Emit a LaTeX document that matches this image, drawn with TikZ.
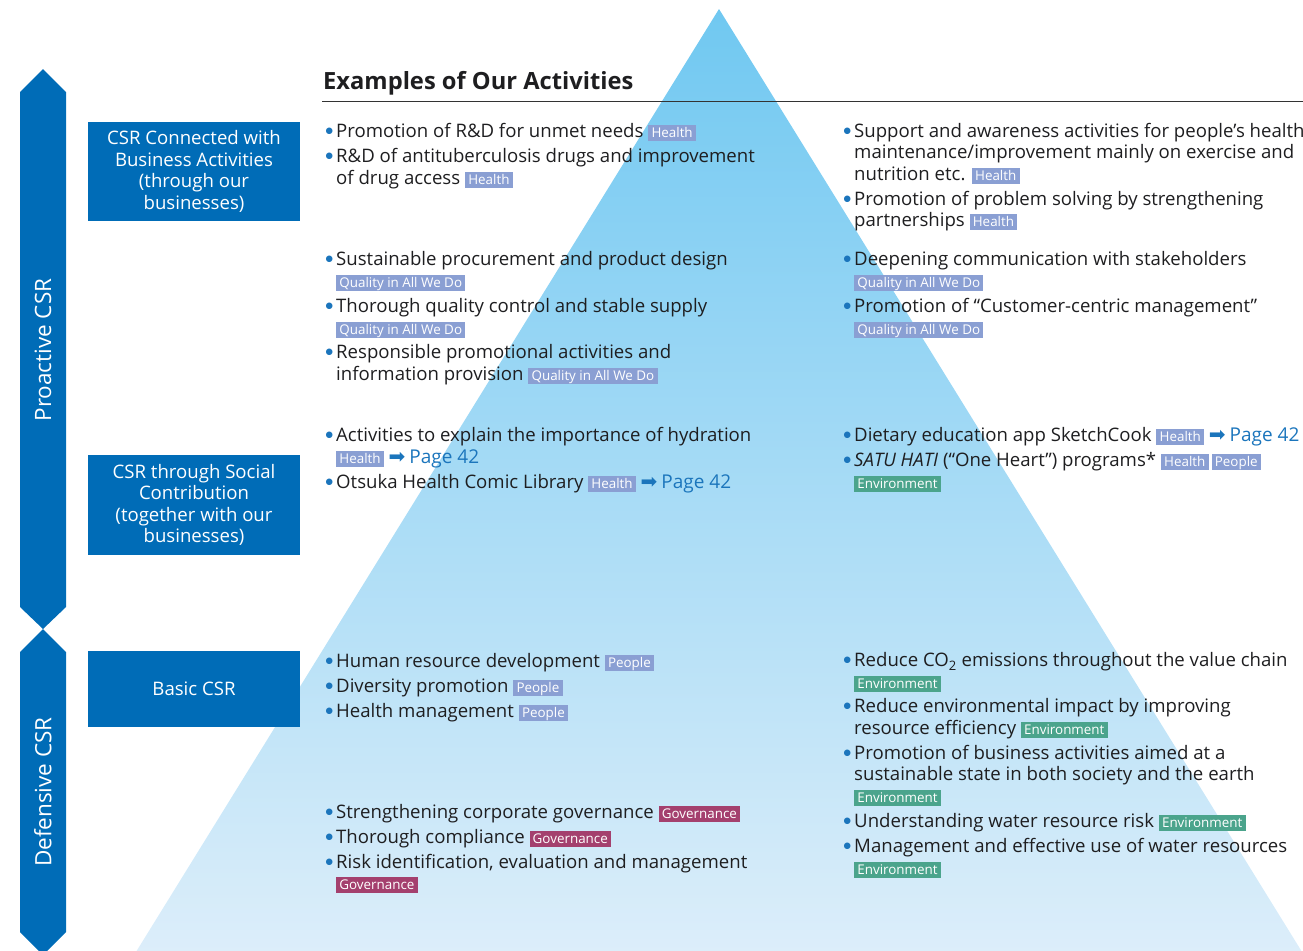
\documentclass[tikz,border=0pt]{standalone}
\usepackage{fontspec}
\setmainfont{Open Sans}
\newfontfamily\symf{DejaVu Sans}
\definecolor{boxblue}{RGB}{0,108,183}
\definecolor{tagblue}{RGB}{138,159,211}
\definecolor{tagenv}{RGB}{75,164,140}
\definecolor{taggov}{RGB}{164,64,110}
\definecolor{linkblue}{RGB}{27,117,188}
\definecolor{txt}{RGB}{30,30,32}
\definecolor{triA}{RGB}{112,200,241}
\definecolor{triB}{RGB}{198,231,249}
\definecolor{triC}{RGB}{221,238,250}
\newcommand{\tg}[2]{{\setlength{\fboxsep}{0pt}\colorbox{#1}{\rule[-3.6bp]{0pt}{16bp}\hspace{3.2bp}{\fontsize{13.4bp}{14bp}\selectfont\textcolor{white}{#2}}\hspace{3.2bp}}}}
\newcommand{\hl}{\tg{tagblue}{Health}}
\newcommand{\pe}{\tg{tagblue}{People}}
\newcommand{\qu}{\tg{tagblue}{Quality in All We Do}}
\newcommand{\en}{\tg{tagenv}{Environment}}
\newcommand{\gv}{\tg{taggov}{Governance}}
\newcommand{\pg}{\textcolor{linkblue}{{\symf\fontsize{20bp}{20bp}\selectfont ➡}\hspace{4bp}{\fontsize{19bp}{20bp}\selectfont Page 42}}}
\newcommand{\bul}{\makebox[10bp][l]{\hspace{-0.5bp}\textcolor{linkblue}{\raisebox{3.8bp}{\symf\fontsize{8.5bp}{8bp}\selectfont ●}}}}
\begin{document}
\begin{tikzpicture}[x=1bp,y=-1bp,
  ln/.style={anchor=base west,inner sep=0pt,text=txt,font=\fontsize{18.6bp}{21bp}\selectfont},
  lvbox/.style={fill=boxblue,text=white,minimum width=212bp,align=center,inner sep=0pt,font=\fontsize{18.6bp}{21.5bp}\selectfont},
  side/.style={fill=boxblue,draw=none},
  sidetext/.style={text=white,rotate=90,inner sep=0pt,font=\fontsize{22.5bp}{24bp}\selectfont}]
\useasboundingbox (0,0) rectangle (1303,950);
\clip (0,0) rectangle (1303,950);
% pyramid
\shade[top color=triA, middle color=triB, bottom color=triC] (719,9) -- (1307,960) -- (131,960) -- cycle;
% side arrows
\path[side] (20,92) -- (43,69) -- (66,92) -- (66,607) -- (43,629) -- (20,607) -- cycle;
\path[side] (20,652) -- (43,629) -- (66,652) -- (66,932) -- (43,955) -- (20,932) -- cycle;
\node[sidetext] (pro) at (43,350) {Proactive CSR};
\node[sidetext] (def) at (43,792) {Defensive CSR};
% level boxes
\node[lvbox,minimum height=99bp] (b1) at (194,171.5) {CSR Connected with\\Business Activities\\(through our\\businesses)};
\node[lvbox,minimum height=100bp] (b2) at (194,505) {CSR through Social\\Contribution\\(together with our\\businesses)};
\node[lvbox,minimum height=76bp] (b3) at (194,689) {Basic CSR};
% title
\node[anchor=base west,inner sep=0pt,text=txt,font=\bfseries\fontsize{23.7bp}{25bp}\selectfont] (title) at (323,89) {Examples of Our Activities};
\coordinate (rl) at (322,101);
\coordinate (rr) at (1303,101);
\draw[line width=1bp,color=black!80] (rl) -- (rr);
% left column
\node[ln] (l1) at (326,137.5) {\bul Promotion of R\&D for unmet needs \hl};
\node[ln] (l2) at (326,162.5) {\bul R\&D of antituberculosis drugs and improvement};
\node[ln] (l3) at (336,184) {of drug access \hl};
\node[ln] (l4) at (326,265.5) {\bul Sustainable procurement and product design};
\node[ln] (l5) at (336,287) {\qu};
\node[ln] (l6) at (326,312.5) {\bul Thorough quality control and stable supply};
\node[ln] (l7) at (336,334) {\qu};
\node[ln] (l8) at (326,358.5) {\bul Responsible promotional activities and};
\node[ln] (l9) at (336,380.5) {information provision \qu};
\node[ln] (l10) at (326,441.5) {\bul Activities to explain the importance of hydration};
\node[ln] (l11) at (336,463) {\hl\ \pg};
\node[ln] (l12) at (326,488.5) {\bul Otsuka Health Comic Library \hl\ \pg};
\node[ln] (l13) at (326,667) {\bul Human resource development \pe};
\node[ln] (l14) at (326,692.5) {\bul Diversity promotion \pe};
\node[ln] (l15) at (326,717.5) {\bul Health management \pe};
\node[ln] (l16) at (326,818.5) {\bul Strengthening corporate governance \gv};
\node[ln] (l17) at (326,843.5) {\bul Thorough compliance \gv};
\node[ln] (l18) at (326,868.5) {\bul Risk identification, evaluation and management};
\node[ln] (l19) at (336,889) {\gv};
% right column
\node[ln] (r1) at (844,137.5) {\bul Support and awareness activities for people’s health};
\node[ln] (r2) at (854,158.5) {maintenance/improvement mainly on exercise and};
\node[ln] (r3) at (854,180) {nutrition etc. \hl};
\node[ln] (r4) at (844,205.5) {\bul Promotion of problem solving by strengthening};
\node[ln] (r5) at (854,226.5) {partnerships \hl};
\node[ln] (r6) at (844,265.5) {\bul Deepening communication with stakeholders};
\node[ln] (r7) at (854,287) {\qu};
\node[ln] (r8) at (844,312.5) {\bul Promotion of “Customer-centric management”};
\node[ln] (r9) at (854,334) {\qu};
\node[ln] (r10) at (844,441.5) {\bul Dietary education app SketchCook \hl\ \pg};
\node[ln] (r11) at (844,466.5) {\bul \textit{SATU HATI} (“One Heart”) programs* \hl\,\pe};
\node[ln] (r12) at (854,488) {\en};
\node[ln] (r13) at (844,666.5) {\bul Reduce CO\textsubscript{2} emissions throughout the value chain};
\node[ln] (r14) at (854,688) {\en};
\node[ln] (r15) at (844,712.5) {\bul Reduce environmental impact by improving};
\node[ln] (r16) at (854,734.5) {resource efficiency \en};
\node[ln] (r17) at (844,759.5) {\bul Promotion of business activities aimed at a};
\node[ln] (r18) at (854,780.5) {sustainable state in both society and the earth};
\node[ln] (r19) at (854,802) {\en};
\node[ln] (r20) at (844,827) {\bul Understanding water resource risk \en};
\node[ln] (r21) at (844,852.5) {\bul Management and effective use of water resources};
\node[ln] (r22) at (854,874) {\en};
\end{tikzpicture}
\end{document}
